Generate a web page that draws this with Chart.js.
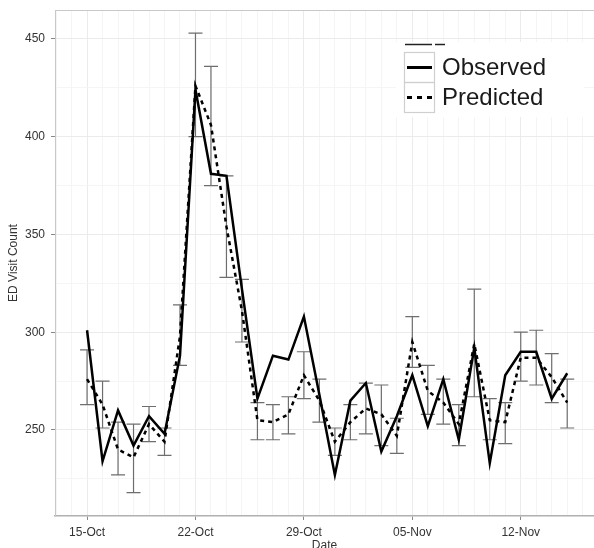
<!DOCTYPE html>
<html>
<head>
<meta charset="utf-8">
<script src="https://cdn.jsdelivr.net/npm/chart.js@4"></script>
<style>
  html, body { margin: 0; padding: 0; background: #fff; }
  #wrap { width: 594px; height: 548px; }
</style>
</head>
<body>
<div id="wrap"><canvas id="edChart" width="594" height="548"></canvas></div>
<script>
// one entry per day, 15-Oct .. 15-Nov
const dates = [
  "15-Oct", "16-Oct", "17-Oct", "18-Oct", "19-Oct", "20-Oct", "21-Oct",
  "22-Oct", "23-Oct", "24-Oct", "25-Oct", "26-Oct", "27-Oct", "28-Oct",
  "29-Oct", "30-Oct", "31-Oct", "01-Nov", "02-Nov", "03-Nov", "04-Nov",
  "05-Nov", "06-Nov", "07-Nov", "08-Nov", "09-Nov", "10-Nov", "11-Nov",
  "12-Nov", "13-Nov", "14-Nov", "15-Nov"
];
const observed = [
  301, 234, 260, 242, 257, 248, 288,
  424, 381, 380, 322, 266, 288, 286,
  308, 268, 227, 265, 274, 239, 257,
  278, 252, 276, 245, 292, 233, 278,
  290, 290, 266, 279
];
const predicted = [
  276, 263, 240, 236, 253, 244, 298,
  426, 406, 354, 311, 255, 254, 258,
  278, 265, 244, 254, 261, 258, 247,
  295, 270, 264, 253, 294, 255, 254,
  287, 287, 277, 264
];
const lower = [
  263, 251, 227, 218, 244, 237, 283,
  400, 375, 328, 295, 245, 245, 248,
  266, 254, 237, 245, 248, 242, 238,
  282, 258, 253, 242, 267, 245, 243,
  275, 273, 264, 251
];
const upper = [
  291, 275, 254, 253, 262, 251, 314,
  453, 436, 380, 327, 264, 263, 267,
  290, 276, 251, 263, 274, 273, 256,
  308, 283, 276, 263, 322, 266, 264,
  300, 301, 289, 276
];
const yTicks = [250, 300, 350, 400, 450];

const textColor = "#333";
const fontFamily = "'Liberation Sans', Arial, sans-serif";

const errorBars = {
  id: "errorBars",
  beforeDatasetsDraw(chart) {
    const { ctx, scales: { x, y } } = chart;
    ctx.save();
    ctx.strokeStyle = "#6e6e6e";
    ctx.lineWidth = 1.2;
    lower.forEach((lo, i) => {
      const px = x.getPixelForValue(i);
      const y1 = y.getPixelForValue(lo);
      const y2 = y.getPixelForValue(upper[i]);
      ctx.beginPath();
      ctx.moveTo(px, y1); ctx.lineTo(px, y2);
      ctx.moveTo(px - 7, y1); ctx.lineTo(px + 7, y1);
      ctx.moveTo(px - 7, y2); ctx.lineTo(px + 7, y2);
      ctx.stroke();
    });
    ctx.restore();
  }
};

// panel top border + legend placed inside the panel
const insideLegend = {
  id: "insideLegend",
  afterDraw(chart) {
    const ctx = chart.ctx;
    const area = chart.chartArea;
    ctx.save();
    ctx.strokeStyle = "#c8c8c8";
    ctx.lineWidth = 1;
    ctx.beginPath(); ctx.moveTo(area.left, area.top + 0.5); ctx.lineTo(area.right, area.top + 0.5); ctx.stroke();

    ctx.fillStyle = "#fff";
    ctx.fillRect(396, 42, 188, 75);
    // clipped legend title remnant
    ctx.strokeStyle = "#222";
    ctx.lineWidth = 1.3;
    ctx.beginPath();
    ctx.moveTo(405, 44.5); ctx.lineTo(432, 44.5);
    ctx.moveTo(435, 44.5); ctx.lineTo(445, 44.5);
    ctx.stroke();
    // key boxes
    ctx.strokeStyle = "#cfcfcf";
    ctx.lineWidth = 1.2;
    ctx.strokeRect(404.5, 52.5, 30, 30);
    ctx.strokeRect(404.5, 82.5, 30, 30);
    ctx.strokeStyle = "#000";
    ctx.lineWidth = 3;
    ctx.beginPath(); ctx.moveTo(407, 67.5); ctx.lineTo(432, 67.5); ctx.stroke();
    ctx.setLineDash([5, 5]);
    ctx.beginPath(); ctx.moveTo(407, 97.5); ctx.lineTo(432, 97.5); ctx.stroke();
    ctx.setLineDash([]);
    ctx.fillStyle = "#1a1a1a";
    ctx.font = "24px " + fontFamily;
    ctx.textBaseline = "middle";
    ctx.fillText("Observed", 442, 68);
    ctx.fillText("Predicted", 442, 98);
    ctx.restore();
  }
};

new Chart(document.getElementById("edChart"), {
  type: "line",
  data: {
    datasets: [
      {
        label: "Observed",
        data: observed.map((v, i) => ({ x: i, y: v })),
        borderColor: "#000",
        borderWidth: 2.5,
        pointRadius: 0,
        tension: 0
      },
      {
        label: "Predicted",
        data: predicted.map((v, i) => ({ x: i, y: v })),
        borderColor: "#000",
        borderWidth: 2.5,
        borderDash: [4, 4],
        pointRadius: 0,
        tension: 0
      }
    ]
  },
  options: {
    responsive: false,
    animation: false,
    layout: { padding: { top: 10, right: 0, left: 0, bottom: 0 } },
    plugins: { legend: { display: false }, tooltip: { enabled: false } },
    scales: {
      x: {
        type: "linear",
        min: -2.07,
        max: 32.73,
        afterFit(scale) { scale.height = 32; },
        border: { color: "#b0b0b0", width: 1.5 },
        grid: {
          color: c => (c.tick && c.tick.value % 7 === 0) ? "#ebebeb" : "#f5f5f5",
          tickColor: c => (c.tick && c.tick.value % 7 === 0) ? "#888" : "rgba(0,0,0,0)",
          tickLength: 4
        },
        ticks: {
          stepSize: 1,
          includeBounds: false,
          autoSkip: false,
          maxRotation: 0,
          padding: 5,
          color: textColor,
          font: { family: fontFamily, size: 12 },
          callback: v => (Number.isInteger(v) && v % 7 === 0 && dates[v]) ? dates[v] : ""
        },
        title: {
          display: true,
          text: "Date",
          color: textColor,
          padding: { top: 0, bottom: -5 },
          font: { family: fontFamily, size: 12 }
        }
      },
      y: {
        min: 206,
        max: 464.8,
        afterFit(scale) { scale.width = 55; },
        border: { display: true, color: "#c8c8c8", width: 1 },
        grid: {
          color: c => (c.tick && yTicks.includes(c.tick.value)) ? "#ebebeb" : "#f5f5f5",
          tickColor: c => (c.tick && yTicks.includes(c.tick.value)) ? "#888" : "rgba(0,0,0,0)",
          tickLength: 4
        },
        ticks: {
          stepSize: 25,
          includeBounds: false,
          padding: 6,
          color: textColor,
          font: { family: fontFamily, size: 12, lineHeight: 0.5 },
          callback: v => yTicks.includes(v) ? String(v) : ""
        },
        title: {
          display: true,
          text: "ED Visit Count",
          color: textColor,
          padding: { top: 6, bottom: 0 },
          font: { family: fontFamily, size: 12 }
        }
      }
    }
  },
  plugins: [errorBars, insideLegend]
});
</script>
</body>
</html>
